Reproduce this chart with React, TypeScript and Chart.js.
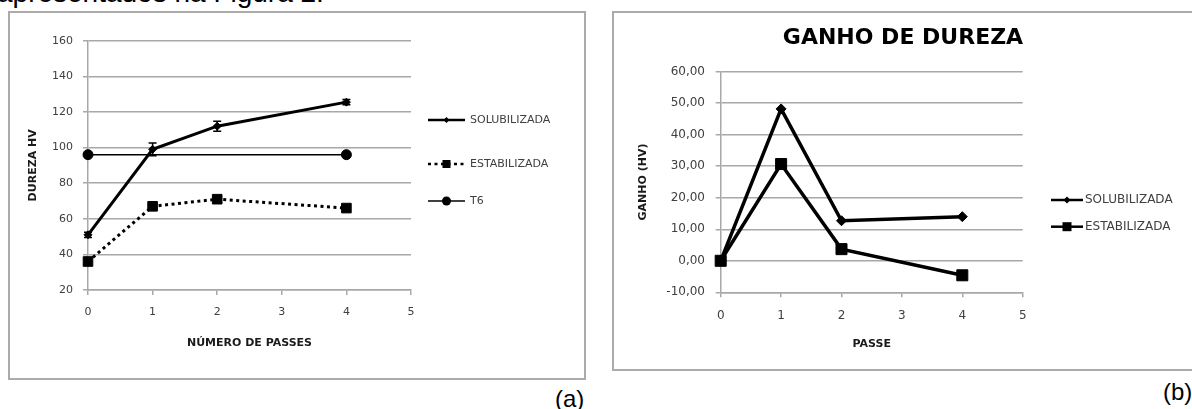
import React, { useEffect, useRef } from "react";
import { Chart, registerables } from "chart.js";

Chart.register(...registerables);

// ---------- data ----------
const passes = [0, 1, 2, 4];
const passesT6 = [0, 4];
const durezaSolubilizada = [51, 99, 112, 125.5];
const erroSolubilizada = [1.5, 3.6, 2.8, 1.5];
const durezaEstabilizada = [36, 67, 71, 66];
const durezaT6 = [96, 96];
const ganhoSolubilizada = [0, 48.2, 12.7, 14.0];
const ganhoEstabilizada = [0, 30.7, 3.7, -4.6];

const xTicks = [0, 1, 2, 3, 4, 5];
const yTicksDureza = [20, 40, 60, 80, 100, 120, 140, 160];
const yTicksGanho = [-10, 0, 10, 20, 30, 40, 50, 60];

const labelSolubilizada = "SOLUBILIZADA";
const labelEstabilizada = "ESTABILIZADA";
const labelT6 = "T6";
const titleA_x = "NÚMERO DE PASSES";
const titleA_y = "DUREZA HV";
const titleB = "GANHO DE DUREZA";
const titleB_x = "PASSE";
const titleB_y = "GANHO (HV)";
const headerText = "apresentados na Figura 2.";

// ---------- helpers ----------
const FONT = "'DejaVu Sans', sans-serif";
const GRID = "#a8a8a8";
const TICK_COLOR = "#404040";

const pts = (xs: number[], ys: number[]) => xs.map((x, i) => ({ x, y: ys[i] }));

function drawMarker(ctx: CanvasRenderingContext2D, style: string, x: number, y: number, r: number) {
  ctx.beginPath();
  if (style === "circle") {
    ctx.arc(x, y, r, 0, Math.PI * 2);
  } else if (style === "rect") {
    ctx.rect(x - r, y - r, 2 * r, 2 * r);
  } else {
    ctx.moveTo(x - r, y);
    ctx.lineTo(x, y - r);
    ctx.lineTo(x + r, y);
    ctx.lineTo(x, y + r);
    ctx.closePath();
  }
  ctx.fillStyle = "#000";
  ctx.fill();
}

const lineLegend = {
  id: "lineLegend",
  afterDraw(chart: any, _args: any, opts: any) {
    const { ctx } = chart;
    chart.data.datasets.forEach((ds: any, i: number) => {
      const y = opts.ys[i];
      ctx.save();
      ctx.strokeStyle = ds.borderColor;
      ctx.lineWidth = opts.lineWidths ? opts.lineWidths[i] : ds.borderWidth;
      ctx.setLineDash(ds.borderDash || []);
      ctx.beginPath();
      ctx.moveTo(opts.x0, y);
      ctx.lineTo(opts.x1, y);
      ctx.stroke();
      ctx.setLineDash([]);
      drawMarker(ctx, ds.pointStyle, (opts.x0 + opts.x1) / 2, y, opts.radii[i]);
      ctx.fillStyle = TICK_COLOR;
      ctx.font = opts.font;
      ctx.textBaseline = "middle";
      ctx.textAlign = "left";
      ctx.fillText(ds.label, opts.textX, y);
      ctx.restore();
    });
  },
};

const errorBars = {
  id: "errorBars",
  afterDatasetsDraw(chart: any, _args: any, opts: any) {
    const { ctx } = chart;
    const ys = chart.scales.y;
    chart.data.datasets.forEach((ds: any, i: number) => {
      if (!ds.errors) return;
      const meta = chart.getDatasetMeta(i);
      ctx.save();
      ctx.strokeStyle = "#000";
      ctx.lineWidth = opts.lineWidth;
      meta.data.forEach((el: any, j: number) => {
        const v = ds.data[j].y;
        const e = ds.errors[j];
        const x = el.x;
        const yTop = ys.getPixelForValue(v + e);
        const yBot = ys.getPixelForValue(v - e);
        ctx.beginPath();
        ctx.moveTo(x, yTop);
        ctx.lineTo(x, yBot);
        ctx.moveTo(x - opts.cap, yTop);
        ctx.lineTo(x + opts.cap, yTop);
        ctx.moveTo(x - opts.cap, yBot);
        ctx.lineTo(x + opts.cap, yBot);
        ctx.stroke();
      });
      ctx.restore();
    });
  },
};

function xScale(tickSize: number, tickPad: number, title: string, titlePad: number, height: number) {
  return {
    type: "linear",
    position: "bottom",
    min: 0,
    max: 5,
    afterBuildTicks: (s: any) => {
      s.ticks = xTicks.map((v) => ({ value: v }));
    },
    afterFit: (s: any) => {
      s.height = height;
    },
    grid: { drawOnChartArea: false, drawTicks: true, tickLength: 5, color: GRID, lineWidth: 1.5 },
    border: { display: true, color: GRID, width: 1.5 },
    ticks: {
      padding: tickPad,
      color: TICK_COLOR,
      font: { family: FONT, size: tickSize },
      callback: (v: any) => String(v),
    },
    title: {
      display: true,
      text: title,
      color: "#1a1a1a",
      font: { family: FONT, size: 11, weight: "bold" },
      padding: titlePad,
    },
  };
}

function yScale(
  min: number,
  max: number,
  ticksArr: number[],
  tickSize: number,
  tickPad: number,
  title: string,
  titlePad: number,
  width: number,
  fmt: (v: number) => string
) {
  return {
    type: "linear",
    position: "left",
    min,
    max,
    afterBuildTicks: (s: any) => {
      s.ticks = ticksArr.map((v) => ({ value: v }));
    },
    afterFit: (s: any) => {
      s.width = width;
    },
    grid: { drawOnChartArea: true, drawTicks: true, tickLength: 5, color: GRID, lineWidth: 1.5 },
    border: { display: true, color: GRID, width: 1.5 },
    ticks: {
      padding: tickPad,
      color: TICK_COLOR,
      font: { family: FONT, size: tickSize },
      callback: (v: any) => fmt(Number(v)),
    },
    title: {
      display: true,
      text: title,
      color: "#1a1a1a",
      font: { family: FONT, size: 11, weight: "bold" },
      padding: titlePad,
    },
  };
}

// invisible right-side spacer axis (reserves room for the legend)
function spacerScale(width: number) {
  return {
    type: "linear",
    position: "right",
    display: true,
    grid: { display: false, drawTicks: false },
    border: { display: false },
    ticks: { display: false },
    afterFit: (s: any) => {
      s.width = width;
    },
  };
}

function configA(): any {
  return {
    type: "line",
    data: {
      datasets: [
        {
          label: labelSolubilizada,
          data: pts(passes, durezaSolubilizada),
          errors: erroSolubilizada,
          borderColor: "#000",
          backgroundColor: "#000",
          borderWidth: 3,
          pointStyle: "rectRot",
          pointRadius: 4,
          pointBorderWidth: 1,
          pointBackgroundColor: "#000",
          pointBorderColor: "#000",
          tension: 0,
          clip: false,
        },
        {
          label: labelEstabilizada,
          data: pts(passes, durezaEstabilizada),
          borderColor: "#000",
          backgroundColor: "#000",
          borderWidth: 3,
          borderDash: [3, 3.5],
          pointStyle: "rect",
          pointRadius: 6.8,
          pointBorderWidth: 1,
          pointBackgroundColor: "#000",
          pointBorderColor: "#000",
          tension: 0,
          clip: false,
        },
        {
          label: labelT6,
          data: pts(passesT6, durezaT6),
          borderColor: "#000",
          backgroundColor: "#000",
          borderWidth: 1.5,
          pointStyle: "circle",
          pointRadius: 5,
          pointBorderWidth: 1,
          pointBackgroundColor: "#000",
          pointBorderColor: "#000",
          tension: 0,
          clip: false,
        },
      ],
    },
    options: {
      responsive: false,
      animation: false,
      devicePixelRatio: 1,
      layout: { padding: { left: 0, right: 175, top: 29.7, bottom: 0 } },
      scales: {
        x: xScale(11, 11, titleA_x, 30, 90),
        y: yScale(20, 160, yTicksDureza, 11, 10, titleA_y, 18.4, 80, (v) => String(v)),
      },
      plugins: {
        legend: { display: false },
        tooltip: { enabled: false },
        title: { display: false },
        errorBars: { lineWidth: 1.5, cap: 4 },
        lineLegend: {
          x0: 420,
          x1: 457,
          textX: 462,
          ys: [109, 153, 190],
          radii: [3, 4, 4.5],
          lineWidths: [2.5, 2.5, 1.5],
          font: `11px ${FONT}`,
        },
      },
    },
    plugins: [errorBars, lineLegend],
  };
}

function configB(): any {
  return {
    type: "line",
    data: {
      datasets: [
        {
          label: labelSolubilizada,
          data: pts(passes, ganhoSolubilizada),
          borderColor: "#000",
          backgroundColor: "#000",
          borderWidth: 3.5,
          pointStyle: "rectRot",
          pointRadius: 5,
          pointBorderWidth: 1,
          pointBackgroundColor: "#000",
          pointBorderColor: "#000",
          tension: 0,
          clip: false,
        },
        {
          label: labelEstabilizada,
          data: pts(passes, ganhoEstabilizada),
          borderColor: "#000",
          backgroundColor: "#000",
          borderWidth: 3.5,
          pointStyle: "rect",
          pointRadius: 7.8,
          pointBorderWidth: 1,
          pointBackgroundColor: "#000",
          pointBorderColor: "#000",
          tension: 0,
          clip: false,
        },
      ],
    },
    options: {
      responsive: false,
      animation: false,
      devicePixelRatio: 1,
      layout: { padding: { left: 0, right: 0, top: 0, bottom: 0 } },
      scales: {
        x: xScale(12, 11.2, titleB_x, 20.4, 78.7),
        y: yScale(-10, 60, yTicksGanho, 12, 10.7, titleB_y, 24.4, 108.7, (v) =>
          v.toFixed(2).replace(".", ",")
        ),
        spacer: spacerScale(171.3),
      },
      plugins: {
        legend: { display: false },
        tooltip: { enabled: false },
        title: {
          display: true,
          text: titleB,
          color: "#000",
          font: { family: FONT, size: 22, weight: "bold" },
          padding: { top: 13.8, bottom: 20.5 },
        },
        lineLegend: {
          x0: 439,
          x1: 471,
          textX: 473,
          ys: [189, 215.7],
          radii: [3.5, 4.5],
          lineWidths: [2.5, 2.5],
          font: `12px ${FONT}`,
        },
      },
    },
    plugins: [lineLegend],
  };
}

export default function App() {
  const refA = useRef<HTMLCanvasElement>(null);
  const refB = useRef<HTMLCanvasElement>(null);

  useEffect(() => {
    const a = new Chart(refA.current as HTMLCanvasElement, configA());
    const b = new Chart(refB.current as HTMLCanvasElement, configB());
    return () => {
      a.destroy();
      b.destroy();
    };
  }, []);

  const abs = { position: "absolute" as const };
  return (
    <div
      style={{
        position: "fixed",
        left: 0,
        top: 0,
        width: 1192,
        height: 409,
        overflow: "hidden",
        background: "#fff",
      }}
    >
      <div
        style={{
          ...abs,
          left: -3,
          top: -21,
          fontFamily: "'Liberation Sans', Arial, sans-serif",
          fontSize: 28,
          lineHeight: "28px",
          whiteSpace: "nowrap",
          color: "#000",
        }}
      >
        {headerText}
      </div>
      <div
        style={{
          ...abs,
          left: 8,
          top: 11,
          width: 578,
          height: 369,
          border: "2px solid #ababab",
          boxSizing: "border-box",
        }}
      />
      <div
        style={{
          ...abs,
          left: 612,
          top: 11,
          width: 600,
          height: 360,
          border: "2px solid #ababab",
          boxSizing: "border-box",
        }}
      />
      <canvas ref={refA} width={578} height={369} style={{ ...abs, left: 8, top: 11, width: 578, height: 369 }} />
      <canvas ref={refB} width={582} height={360} style={{ ...abs, left: 612, top: 11, width: 582, height: 360 }} />
      <div
        style={{
          ...abs,
          left: 555,
          top: 386.7,
          fontFamily: "'Liberation Sans', Arial, sans-serif",
          fontSize: 24,
          lineHeight: "24px",
          whiteSpace: "nowrap",
          color: "#000",
        }}
      >
        (a)
      </div>
      <div
        style={{
          ...abs,
          left: 1163,
          top: 379.7,
          fontFamily: "'Liberation Sans', Arial, sans-serif",
          fontSize: 24,
          lineHeight: "24px",
          whiteSpace: "nowrap",
          color: "#000",
        }}
      >
        (b)
      </div>
    </div>
  );
}
